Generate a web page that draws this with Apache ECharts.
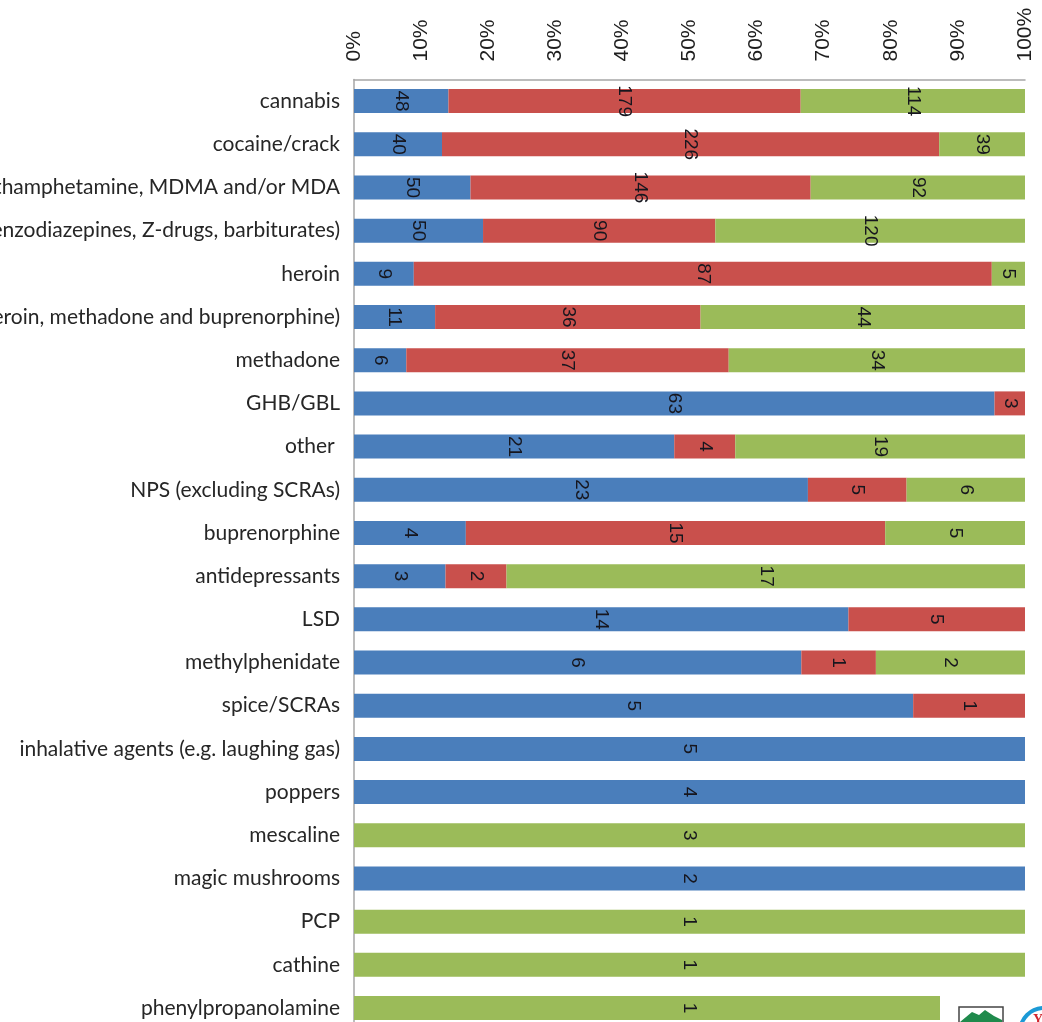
<!DOCTYPE html>
<html>
<head>
<meta charset="utf-8">
<script src="https://cdn.jsdelivr.net/npm/echarts@6/dist/echarts.min.js"></script>
<style>
  html, body { margin: 0; padding: 0; background: #ffffff; }
  #chart { width: 1042px; height: 1022px; }
</style>
</head>
<body>
<div id="chart"></div>
<script>
// Substances, top to bottom
const categories = [
  'cannabis',
  'cocaine/crack',
  'amphetamine, methamphetamine, MDMA and/or MDA',
  'sedatives (benzodiazepines, Z-drugs, barbiturates)',
  'heroin',
  'opioids (heroin, methadone and buprenorphine)',
  'methadone',
  'GHB/GBL',
  'other ',
  'NPS (excluding SCRAs)',
  'buprenorphine',
  'antidepressants',
  'LSD',
  'methylphenidate',
  'spice/SCRAs',
  'inhalative agents (e.g. laughing gas)',
  'poppers',
  'mescaline',
  'magic mushrooms',
  'PCP',
  'cathine',
  'phenylpropanolamine'
];

// Counts per substance for the three groups (blue, red, green)
const blueCounts  = [48, 40, 50, 50, 9, 11, 6, 63, 21, 23, 4, 3, 14, 6, 5, 5, 4, 0, 2, 0, 0, 0];
const redCounts   = [179, 226, 146, 90, 87, 36, 37, 3, 4, 5, 15, 2, 5, 1, 1, 0, 0, 0, 0, 0, 0, 0];
const greenCounts = [114, 39, 92, 120, 5, 44, 34, 0, 19, 6, 5, 17, 0, 2, 0, 0, 0, 3, 0, 1, 1, 1];

const axisTicks = [0, 10, 20, 30, 40, 50, 60, 70, 80, 90, 100];

const groups = [
  { name: 'group 1', counts: blueCounts,  color: '#4a7ebb' },
  { name: 'group 2', counts: redCounts,   color: '#c9504c' },
  { name: 'group 3', counts: greenCounts, color: '#9bbb59' }
];

// Each bar is scaled to 100 % of its row total
const totals = categories.map((_, i) => groups.reduce((s, g) => s + g.counts[i], 0));

const series = groups.map(g => ({
  name: g.name,
  type: 'bar',
  stack: 'share',
  barWidth: 24,
  itemStyle: { color: g.color },
  data: g.counts.map((v, i) => totals[i] ? v / totals[i] * 100 : 0),
  label: {
    show: true,
    position: 'inside',
    rotate: -90,
    fontFamily: 'Liberation Sans, Arial, sans-serif',
    fontSize: 19,
    color: '#16161e',
    formatter: p => g.counts[p.dataIndex] ? String(g.counts[p.dataIndex]) : ''
  }
}));

const chart = echarts.init(document.getElementById('chart'), null, { renderer: 'canvas' });

chart.setOption({
  animation: false,
  backgroundColor: '#ffffff',
  grid: {
    left: 354, right: 17, top: 79.5, bottom: -7.6,
    containLabel: false,
    outerBoundsMode: 'none'
  },
  xAxis: {
    type: 'value',
    position: 'top',
    min: axisTicks[0],
    max: axisTicks[axisTicks.length - 1],
    interval: axisTicks[1] - axisTicks[0],
    axisLine: { show: true, lineStyle: { color: '#a6a6a6', width: 1.5 } },
    axisTick: { show: false },
    splitLine: { show: false },
    axisLabel: {
      rotate: -90,
      margin: 18,
      fontFamily: 'Liberation Sans, Arial, sans-serif',
      fontSize: 21,
      color: '#1e1e1e',
      formatter: '{value}%'
    }
  },
  yAxis: {
    type: 'category',
    inverse: true,
    data: categories,
    axisLine: { show: true, lineStyle: { color: '#a6a6a6', width: 1.5 } },
    axisTick: { show: false },
    axisLabel: {
      margin: 14,
      fontFamily: 'Lato, sans-serif',
      fontSize: 21,
      color: '#262626'
    }
  },
  series: series,
  graphic: [
    // publisher logo in the lower right corner
    { type: 'rect', shape: { x: 940, y: 996, width: 102, height: 30 }, style: { fill: '#ffffff' }, z: 100 },
    { type: 'rect', shape: { x: 959, y: 1007, width: 44, height: 20 }, style: { fill: '#ffffff', stroke: '#444444', lineWidth: 1.5 }, z: 101 },
    { type: 'polygon', shape: { points: [[960, 1022], [972, 1012], [979, 1015], [985, 1010], [994, 1016], [1002, 1020], [1002, 1022]] }, style: { fill: '#1f8a4c' }, z: 102 },
    { type: 'circle', shape: { cx: 1044, cy: 1032, r: 24 }, style: { fill: '#ffffff', stroke: '#1b9ad6', lineWidth: 4 }, z: 101 },
    { type: 'text', style: { x: 1033, y: 1013, text: 'Y', fill: '#d0262d', font: 'bold 14px Liberation Serif, serif' }, z: 102 }
  ]
});
</script>
</body>
</html>
